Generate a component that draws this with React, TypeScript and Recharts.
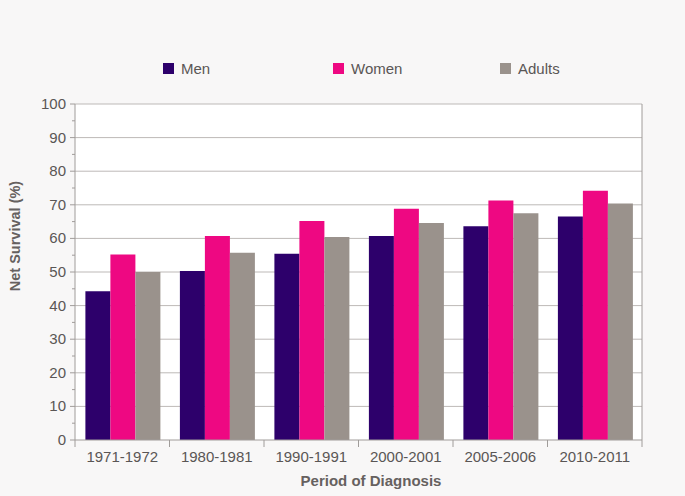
import React from "react";
import { BarChart, Bar, XAxis, YAxis, CartesianGrid } from "recharts";

const categories = ["1971-1972", "1980-1981", "1990-1991", "2000-2001", "2005-2006", "2010-2011"];
const men = [44.3, 50.3, 55.4, 60.7, 63.6, 66.5];
const women = [55.2, 60.7, 65.2, 68.8, 71.3, 74.2];
const adults = [50.0, 55.7, 60.4, 64.6, 67.5, 70.4];
const yTicks = [0, 5, 10, 15, 20, 25, 30, 35, 40, 45, 50, 55, 60, 65, 70, 75, 80, 85, 90, 95, 100];
const gridTicks = [10, 20, 30, 40, 50, 60, 70, 80, 90, 100];

const data = categories.map((c, i) => ({ period: c, men: men[i], women: women[i], adults: adults[i] }));

const W = 685;
const H = 496;
const PLOT_LEFT = 75;
const PLOT_RIGHT = 642;
const PLOT_TOP = 104;
const PLOT_BOTTOM = 440;
const BAND = (PLOT_RIGHT - PLOT_LEFT) / categories.length;

const AXIS = "#a09c9a";
const TEXT = "#5a5655";
const TITLE = "#66615f";
const FONT = "'Liberation Sans', Arial, sans-serif";

const COLORS = { men: "#2d006b", women: "#ee0882", adults: "#9a928c" };

const YTick = (props: any) => {
  const { y, payload } = props;
  const v = payload.value;
  const major = v % 10 === 0;
  return (
    <g>
      <line x1={PLOT_LEFT - (major ? 5 : 3)} x2={PLOT_LEFT} y1={y} y2={y} stroke={AXIS} strokeWidth={1} />
      {major && (
        <text x={PLOT_LEFT - 9} y={y} dy={5} textAnchor="end" fontSize={15} fill={TEXT} fontFamily={FONT}>
          {v}
        </text>
      )}
    </g>
  );
};

const XTick = (props: any) => {
  const { x, y, payload, index } = props;
  const left = x - BAND / 2;
  return (
    <g>
      <line x1={left} x2={left} y1={PLOT_BOTTOM} y2={PLOT_BOTTOM + 7} stroke={AXIS} strokeWidth={1} />
      {index === categories.length - 1 && (
        <line x1={x + BAND / 2} x2={x + BAND / 2} y1={PLOT_BOTTOM} y2={PLOT_BOTTOM + 7} stroke={AXIS} strokeWidth={1} />
      )}
      <text x={x} y={y} dy={14} textAnchor="middle" fontSize={15} fill={TEXT} fontFamily={FONT}>
        {payload.value}
      </text>
    </g>
  );
};

const legendItems = [
  { key: "men", label: "Men", x: 163 },
  { key: "women", label: "Women", x: 333 },
  { key: "adults", label: "Adults", x: 500 },
];

export default function App() {
  return (
    <div style={{ position: "fixed", left: 0, top: 0, width: W, height: H, background: "#f8f7f7" }}>
      <svg width={W} height={H} style={{ position: "absolute", left: 0, top: 0 }}>
        <rect x={PLOT_LEFT} y={PLOT_TOP} width={PLOT_RIGHT - PLOT_LEFT} height={PLOT_BOTTOM - PLOT_TOP} fill="#ffffff" />
      </svg>
      <div style={{ position: "absolute", left: 0, top: 0 }}>
        <BarChart
          width={W}
          height={H}
          data={data}
          margin={{ top: PLOT_TOP, right: W - PLOT_RIGHT - 1, left: 0, bottom: 0 }}
          barCategoryGap="11%"
          barGap={0}
        >
          <CartesianGrid
            yAxisId="left"
            horizontal={true}
            vertical={false}
            horizontalValues={gridTicks}
            stroke="#bdb9b7"
            strokeWidth={1}
          />
          <XAxis
            dataKey="period"
            height={H - PLOT_BOTTOM}
            tickLine={false}
            axisLine={{ stroke: AXIS }}
            tick={<XTick />}
            interval={0}
          />
          <YAxis
            yAxisId="left"
            width={PLOT_LEFT}
            domain={[0, 100]}
            ticks={yTicks}
            interval={0}
            tickLine={false}
            axisLine={{ stroke: AXIS }}
            tick={<YTick />}
          />
          <YAxis
            yAxisId="right"
            orientation="right"
            width={1}
            domain={[0, 100]}
            tick={false}
            tickLine={false}
            axisLine={{ stroke: AXIS }}
          />
          <Bar yAxisId="left" dataKey="men" fill={COLORS.men} isAnimationActive={false} />
          <Bar yAxisId="left" dataKey="women" fill={COLORS.women} isAnimationActive={false} />
          <Bar yAxisId="left" dataKey="adults" fill={COLORS.adults} isAnimationActive={false} />
        </BarChart>
      </div>
      <svg width={W} height={H} style={{ position: "absolute", left: 0, top: 0, pointerEvents: "none" }}>
        {legendItems.map((it) => (
          <g key={it.key}>
            <rect x={it.x} y={63} width={11} height={11} fill={(COLORS as any)[it.key]} />
            <text x={it.x + 18} y={74} fontSize={15} fill={TEXT} fontFamily={FONT}>
              {it.label}
            </text>
          </g>
        ))}
        <text
          x={371}
          y={486}
          textAnchor="middle"
          fontSize={15}
          fontWeight="bold"
          fill={TITLE}
          fontFamily={FONT}
        >
          Period of Diagnosis
        </text>
        <text
          x={20}
          y={236}
          textAnchor="middle"
          fontSize={14.5}
          fontWeight="bold"
          fill={TITLE}
          fontFamily={FONT}
          transform="rotate(-90, 20, 236)"
        >
          Net Survival (%)
        </text>
      </svg>
    </div>
  );
}
